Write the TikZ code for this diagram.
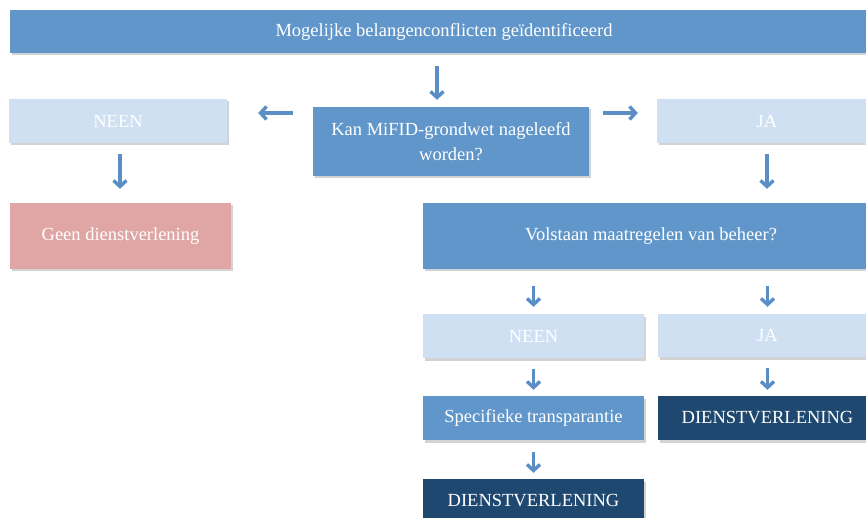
\documentclass[tikz,border=0pt]{standalone}
\usepackage{fontspec}
\setmainfont{Liberation Serif}
\usetikzlibrary{shadows,arrows.meta}
\definecolor{midblue}{HTML}{6096C9}
\definecolor{lightblue}{HTML}{CFE0F2}
\definecolor{pinkbox}{HTML}{E0A6A5}
\definecolor{navy}{HTML}{1F4870}
\definecolor{arrowblue}{HTML}{5A8EC5}
\tikzset{
  box/.style={rectangle, inner sep=0pt, text=white, font=\fontsize{18.5}{25}\selectfont,
    align=center, drop shadow={shadow xshift=1.5pt, shadow yshift=-2.5pt, opacity=0.35}},
  midbox/.style={box, fill=midblue},
  lightbox/.style={box, fill=lightblue},
  pinkb/.style={box, fill=pinkbox},
  navybox/.style={box, fill=navy},
  arr/.style={draw=arrowblue, line width=3.4pt, -{Straight Barb[length=6pt,width=13pt]}}
}
\begin{document}
\begin{tikzpicture}[x=1pt,y=-1pt]
\useasboundingbox (0,0) rectangle (866,518);
\clip (0,0) rectangle (866,518);
% nodes
\node[midbox, minimum width=868, minimum height=43] (top) at (444,31.5) {Mogelijke belangenconflicten geïdentificeerd};
\node[midbox, minimum width=276, minimum height=69] (kan) at (451,141.5) {Kan MiFID-grondwet nageleefd\\worden?};
\node[lightbox, minimum width=218, minimum height=44] (neen1) at (118,121) {NEEN};
\node[lightbox, minimum width=220, minimum height=44] (ja1) at (767,121) {JA};
\node[pinkb, minimum width=221, minimum height=66] (geen) at (120.5,236) {Geen dienstverlening};
\node[midbox, minimum width=456, minimum height=66] (vol) at (651,236) {Volstaan maatregelen van beheer?};
\node[lightbox, minimum width=221, minimum height=44] (neen2) at (533.5,336) {NEEN};
\node[lightbox, minimum width=219, minimum height=43] (ja2) at (767.5,335.5) {JA};
\node[midbox, minimum width=221, minimum height=44] (spec) at (533.5,418) {Specifieke transparantie};
\node[navybox, minimum width=219, minimum height=44] (dv1) at (767.5,418) {DIENSTVERLENING};
\node[navybox, minimum width=221, minimum height=44] (dv2) at (533.5,501) {DIENSTVERLENING};
% helper coordinates
\coordinate (c1) at (437,0);
\coordinate (r1) at (0,113);
% arrows
\draw[arr, shorten <=13pt, shorten >=7pt] (top.south -| c1) -- (kan.north -| c1);
\draw[arr, shorten <=20pt, shorten >=31pt] (kan.west |- r1) -- (neen1.east |- r1);
\draw[arr, shorten <=14pt, shorten >=19pt] (kan.east |- r1) -- (ja1.west |- r1);
\draw[arr, shorten <=11pt, shorten >=14pt] ([xshift=2pt]neen1.south) -- ([xshift=2pt]neen1.south |- geen.north);
\draw[arr, shorten <=11pt, shorten >=14pt] (ja1.south) -- (ja1.south |- vol.north);
\draw[arr, shorten <=17pt, shorten >=7pt] (vol.south -| neen2) -- (neen2.north);
\draw[arr, shorten <=17pt, shorten >=7pt] (vol.south -| ja2) -- (ja2.north);
\draw[arr, shorten <=11pt, shorten >=6pt] (neen2.south) -- (spec.north);
\draw[arr, shorten <=11pt, shorten >=6pt] (ja2.south) -- (dv1.north);
\draw[arr, shorten <=12pt, shorten >=6pt] (spec.south) -- (dv2.north);
\end{tikzpicture}
\end{document}
